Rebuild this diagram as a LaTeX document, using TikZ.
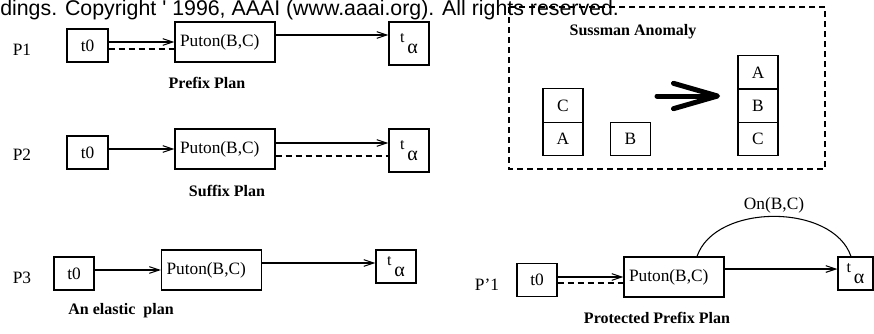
\documentclass[tikz,border=0pt]{standalone}
\usepackage{fontspec}
\setmainfont{Liberation Serif}
\newfontfamily\hdrfont{Liberation Sans}
\usepackage{tikz}
\usetikzlibrary{calc,arrows.meta}
\tikzset{every picture/.style={/utils/exec={\fontsize{13}{15}\selectfont}}}
\tikzstyle{line}=[line width=0.8pt]
\tikzstyle{arrow}=[line,-{Straight Barb[length=7.5pt,width=5pt]}]
\tikzstyle{dashline}=[line width=1.5pt,dash pattern=on 4.5pt off 3pt]
\tikzstyle{tbox}=[draw,line,minimum width=30.75pt,minimum height=24.75pt,inner sep=0pt]
\tikzstyle{actbox}=[draw,line,minimum height=30pt,text width=67.5pt,inner xsep=3.75pt,inner ysep=0pt,align=left]
\tikzstyle{goalbox}=[draw,line,minimum width=30pt,minimum height=32.25pt,inner sep=0pt]
\tikzstyle{block}=[draw,line,minimum width=30pt,minimum height=25pt,inner sep=0pt]
\tikzstyle{caption}=[font=\fontsize{12}{14}\selectfont\bfseries]
\newcommand{\talpha}{\raisebox{4.5pt}{\fontsize{12}{14}\selectfont t}\,\raisebox{-3.5pt}{\fontsize{15}{17}\selectfont α}}

\begin{document}
\begin{tikzpicture}[x=0.75pt,y=-0.75pt]
    \useasboundingbox (0,0) rectangle (874,333);
    \node[anchor=base west,inner sep=0pt,font=\hdrfont\fontsize{16}{18}\selectfont] (hdr) at (0,15)
      {dings. Copyright ' 1996, AAAI (www.aaai.org). All rights reserved.};

    % prefix plan
    \node (P1) at (22,50) {P1};
    \node[tbox] (T0-1) at (87.5,45.5) {t0};
    \node[actbox] (Put-1) at (225,42) {Puton(B,C)};
    \node[goalbox] (Ta-1) at (409,43.5) {\talpha};
    \draw[arrow] ($(T0-1.east)+(0,-3.5)$) -- (Put-1.west);
    \draw[dashline] ($(T0-1.east)+(0,3.5)$) -- ($(Put-1.west)+(0,7)$);
    \draw[arrow] ($(Put-1.east)+(0,-7)$) -- ($(Ta-1.west)+(0,-8.5)$);
    \node[caption] (Cap-1) at (207,83) {Prefix Plan};

    % suffix plan
    \node (P2) at (22,155) {P2};
    \node[tbox] (T0-2) at (87.5,152.5) {t0};
    \node[actbox] (Put-2) at (225,149) {Puton(B,C)};
    \node[goalbox] (Ta-2) at (409,150.5) {\talpha};
    \draw[arrow] ($(T0-2.east)+(0,-3.5)$) -- (Put-2.west);
    \draw[arrow] ($(Put-2.east)+(0,-6)$) -- ($(Ta-2.west)+(0,-7.5)$);
    \draw[dashline] ($(Put-2.east)+(0,7)$) -- ($(Ta-2.west)+(0,5.5)$);
    \node[caption] (Cap-2) at (227,191) {Suffix Plan};

    % elastic plan
    \node (P3) at (22,278) {P3};
    \node[tbox,minimum width=30pt] (T0-3) at (74,273.5) {t0};
    \node[actbox] (Put-3) at (211.5,270) {Puton(B,C)};
    \node[goalbox,minimum height=24.75pt] (Ta-3) at (396,266.5) {\talpha};
    \draw[arrow] ($(T0-3.east)+(0,-3.5)$) -- (Put-3.west);
    \draw[arrow] ($(Put-3.east)+(0,-7)$) -- ($(Ta-3.west)+(0,-3.5)$);
    \node[caption] (Cap-3) at (121,311) {An elastic\ \ plan};

    % protected prefix plan
    \node (P4) at (487,285) {P'1};
    \node[tbox,minimum width=30pt] (T0-4) at (537,280) {t0};
    \node[actbox] (Put-4) at (674,277) {Puton(B,C)};
    \node[goalbox,minimum width=26.25pt,minimum height=24.75pt] (Ta-4) at (855.5,273.5) {\talpha};
    \draw[arrow] ($(T0-4.east)+(0,-3)$) -- (Put-4.west);
    \draw[dashline] ($(T0-4.east)+(0,3)$) -- ($(Put-4.west)+(0,6)$);
    \draw[arrow] ($(Put-4.east)+(0,-8)$) -- ($(Ta-4.west)+(0,-4.5)$);
    \draw[line] ($(Put-4.north)+(23,0)$) .. controls (715,203) and (833,203) .. ($(Ta-4.north)+(-4.5,0)$)
      node[pos=0.5,above,inner sep=2pt] (On) {On(B,C)};
    \node[caption] (Cap-4) at (657,318) {Protected Prefix Plan};

    % sussman anomaly
    \draw[dashline] (509,7) rectangle (825,169);
    \node[caption] (Cap-5) at (633,32) {Sussman Anomaly};
    \foreach \n/\x/\y/\lab in {C1/563/105.5/C,A1/563/139/A,B1/630.5/139/B,A2/758/72.5/A,B2/758/105.5/B,C2/758/139/C} {
      \node[block] (Blk-\n) at (\x,\y) {\lab};
    }
    \coordinate (Go-from) at (657,96);
    \coordinate (Go-to) at (720,96);
    \draw[line width=3.75pt,line cap=round,-{Straight Barb[length=33pt,width=19pt,round]}] (Go-from) -- (Go-to);
\end{tikzpicture}
\end{document}
